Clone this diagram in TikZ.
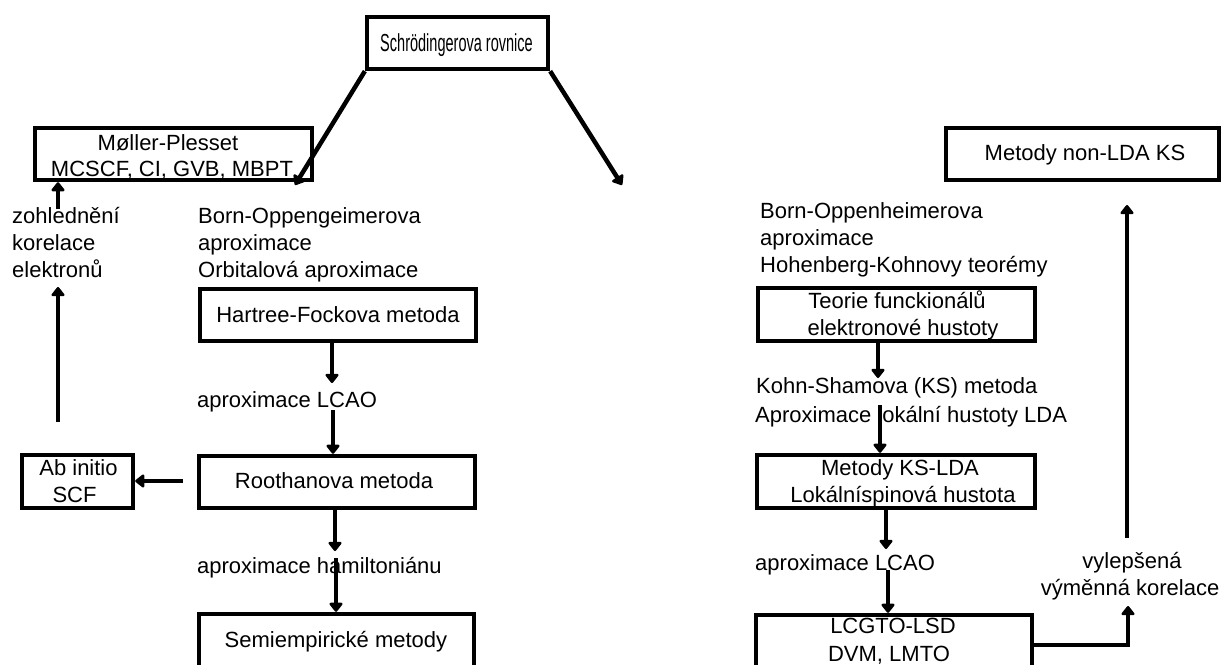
\documentclass[tikz,border=0pt]{standalone}
\usepackage{fontspec}
\setmainfont{Liberation Sans}
\usetikzlibrary{arrows.meta}
\begin{document}
\begin{tikzpicture}[x=1pt,y=-1pt,
  box/.style={draw,line width=4.3pt,inner sep=0pt},
  txt/.style={anchor=base,inner sep=0pt,font=\fontsize{22}{27}\selectfont},
  ltxt/.style={txt,anchor=base west},
  arr/.style={line width=4.5pt,-{Triangle[width=15pt,length=10pt,round]}}]
\useasboundingbox[fill=white] (0,0) rectangle (1222,664);

% boxes
\node[box,minimum width=181pt,minimum height=52pt] (schr) at (457.5,43) {};
\node[box,minimum width=277pt,minimum height=52pt] (mp) at (173.5,154) {};
\node[box,minimum width=273pt,minimum height=52pt] (nonlda) at (1082.5,154) {};
\node[box,minimum width=276pt,minimum height=52pt] (hf) at (338,315) {};
\node[box,minimum width=276pt,minimum height=52pt] (roo) at (337,482) {};
\node[box,minimum width=275pt,minimum height=66pt] (semi) at (336.5,647) {};
\node[box,minimum width=111pt,minimum height=53pt] (abinit) at (77.5,481.5) {};
\node[box,minimum width=277pt,minimum height=53pt] (teorie) at (896.5,314.5) {};
\node[box,minimum width=278pt,minimum height=53pt] (kslda) at (896,481.5) {};
\node[box,minimum width=276pt,minimum height=65pt] (lcgto) at (894,647.5) {};

% box texts
\node[txt] (tschr) at (456.5,51) {\scalebox{0.66}[1.12]{Schrödingerova rovnice}};
\node[txt] (tmp1) at (168,150) {Møller-Plesset};
\node[txt] (tmp2) at (172,176) {MCSCF, CI, GVB, MBPT};
\node[txt] (tnon) at (1085,160) {Metody non-LDA KS};
\node[txt] (thf) at (338,322) {Hartree-Fockova metoda};
\node[txt] (troo) at (334,488) {Roothanova metoda};
\node[txt] (tsemi) at (336,647) {Semiempirické metody};
\node[txt] (tab1) at (78.5,475) {Ab initio};
\node[txt] (tab2) at (74.5,502) {SCF};
\node[txt] (tte1) at (897,308) {Teorie funckionálů};
\node[txt] (tte2) at (903,335) {elektronové hustoty};
\node[txt] (tks1) at (900,475) {Metody KS-LDA};
\node[txt] (tks2) at (903,502) {Lokálníspinová hustota};
\node[txt] (tlc1) at (893,633) {LCGTO-LSD};
\node[txt] (tlc2) at (889,661) {DVM, LMTO};

% free texts
\node[ltxt] (z1) at (12,223) {zohlednění};
\node[ltxt] (z2) at (12,250) {korelace};
\node[ltxt] (z3) at (12,277) {elektronů};
\node[ltxt] (bl1) at (198,223) {Born-Oppengeimerova};
\node[ltxt] (bl2) at (198,250) {aproximace};
\node[ltxt] (bl3) at (198,277) {Orbitalová aproximace};
\node[ltxt] (lcl) at (197,407) {aproximace LCAO};
\node[ltxt] (ham) at (197,573) {aproximace hamiltoniánu};
\node[ltxt] (br1) at (760,218) {Born-Oppenheimerova};
\node[ltxt] (br2) at (760,245) {aproximace};
\node[ltxt] (br3) at (760,272) {Hohenberg-Kohnovy teorémy};
\node[ltxt] (ks1) at (756,393) {Kohn-Shamova (KS) metoda};
\node[ltxt] (ks2) at (755,422) {Aproximace lokální hustoty LDA};
\node[ltxt] (lcr) at (755,570) {aproximace LCAO};
\node[txt] (vy1) at (1132,568) {vylepšená};
\node[txt] (vy2) at (1130,595) {výměnná korelace};

% coordinates
\coordinate (dl) at (295,185);
\coordinate (dr) at (622,185);
\coordinate (a1) at (332,383);
\coordinate (a2) at (333,410);
\coordinate (a3) at (335,551);
\coordinate (a4) at (336,558);
\coordinate (a5) at (183,481);
\coordinate (u1s) at (58,422);
\coordinate (u1e) at (58,287);
\coordinate (u2) at (58,209);
\coordinate (b1) at (878,378);
\coordinate (b2) at (880,405);
\coordinate (b3) at (886,549);
\coordinate (b4) at (888,570);
\coordinate (el) at (1128,606);
\coordinate (v1s) at (1127,538);
\coordinate (v1e) at (1127,205);

% connectors
\draw[arr] (schr.south west) -- (dl);
\draw[arr] (schr.south east) -- (dr);
\draw[arr] (hf.south -| a1) -- (a1);
\draw[arr] (a2) -- (roo.north -| a2);
\draw[arr] (roo.south -| a3) -- (a3);
\draw[arr] (a4) -- (semi.north -| a4);
\draw[arr] (a5) -- (abinit.east |- a5);
\draw[arr] (u1s) -- (u1e);
\draw[arr] (u2) -- (mp.south -| u2);
\draw[arr] (teorie.south -| b1) -- (b1);
\draw[arr] (b2) -- (kslda.north -| b2);
\draw[arr] (kslda.south -| b3) -- (b3);
\draw[arr] (b4) -- (lcgto.north -| b4);
\draw[arr] (lcgto.east |- 0,645) -| (el);
\draw[arr] (v1s) -- (v1e);
\end{tikzpicture}
\end{document}
